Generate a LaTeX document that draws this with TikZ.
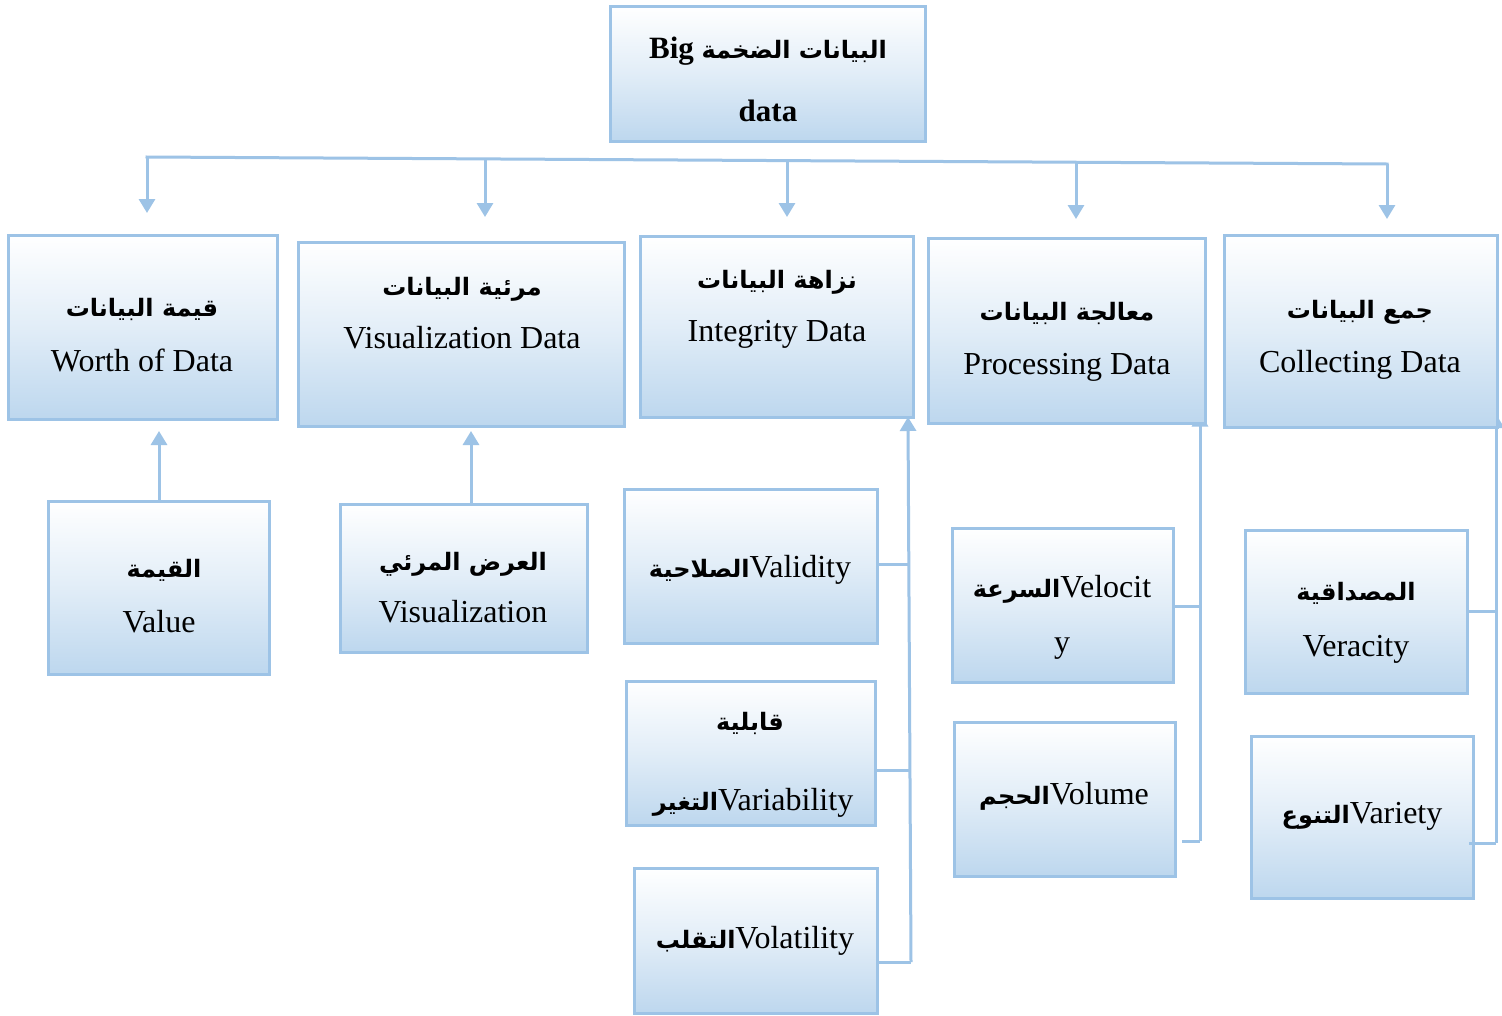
\documentclass[tikz,border=0pt]{standalone}
\usepackage{fontspec}
\setmainfont{Liberation Serif}
\newfontfamily\arabicfont[Script=Arabic]{DejaVu Sans}
\TeXXeTstate=1
\usetikzlibrary{arrows.meta}
\pgfdeclarelayer{background}
\pgfsetlayers{background,main}
\definecolor{edgeblue}{RGB}{157,195,230}
\definecolor{fillblue}{RGB}{189,215,238}
\newcommand\ar[1]{{\arabicfont\bfseries\beginR #1\endR}}
\newcommand\arm[1]{{\arabicfont\bfseries\fontsize{24}{30}\selectfont\beginR #1\endR}}
\tikzset{
  cbox/.style={draw=edgeblue, line width=3pt, top color=white, bottom color=fillblue,
    middle color=fillblue!45, inner sep=0pt},
  lat/.style={font=\fontsize{32}{36}\selectfont, inner sep=0pt, anchor=base},
  arl/.style={font=\fontsize{24}{30}\selectfont, inner sep=0pt, anchor=base},
  ln/.style={draw=edgeblue, line width=3pt},
  arr/.style={ln, -{Triangle[width=16pt,length=14pt]}},
}
\begin{document}
\begin{tikzpicture}[x=1pt,y=-1pt]
\begin{pgfonlayer}{background}
  \fill[white] (0,0) rectangle (1502,1015);
\end{pgfonlayer}
\useasboundingbox (0,0) rectangle (1502,1015);

% root box
\node[cbox, minimum width=315pt, minimum height=135pt] (root) at (767.5,73.5) {};
\node[lat, font=\fontsize{31}{34}\selectfont\bfseries] (rootA) at (768,58)
  {Big {\arabicfont\fontsize{24}{30}\selectfont\bfseries\beginR البيانات الضخمة\endR}};
\node[lat, font=\fontsize{31}{34}\selectfont\bfseries] (rootB) at (768,121) {data};

% first level
\node[cbox, minimum width=269pt, minimum height=184pt] (worth) at (142.5,327) {};
\node[cbox, minimum width=326pt, minimum height=184pt] (visdata) at (461,334) {};
\node[cbox, minimum width=273pt, minimum height=181pt] (integ) at (776.5,326.5) {};
\node[cbox, minimum width=277pt, minimum height=185pt] (proc) at (1066.5,330.5) {};
\node[cbox, minimum width=273pt, minimum height=192pt] (coll) at (1360.5,331) {};

\node[arl] (worthA) at (142,316) {\ar{قيمة البيانات}};
\node[lat] (worthB) at (142,371) {Worth of Data};
\node[arl] (visdataA) at (462,295) {\ar{مرئية البيانات}};
\node[lat] (visdataB) at (462,348) {Visualization Data};
\node[arl] (integA) at (777,288) {\ar{نزاهة البيانات}};
\node[lat] (integB) at (777,341) {Integrity Data};
\node[arl] (procA) at (1067,320) {\ar{معالجة البيانات}};
\node[lat] (procB) at (1067,374) {Processing Data};
\node[arl] (collA) at (1360,318) {\ar{جمع البيانات}};
\node[lat] (collB) at (1360,372) {Collecting Data};

% second level
\node[cbox, minimum width=221pt, minimum height=173pt] (value) at (158.5,587.5) {};
\node[cbox, minimum width=247pt, minimum height=148pt] (visual) at (463.5,578) {};
\node[cbox, minimum width=253pt, minimum height=154pt] (valid) at (750.5,566) {};
\node[cbox, minimum width=249pt, minimum height=144pt] (variab) at (750.5,753) {};
\node[cbox, minimum width=243pt, minimum height=145pt] (volat) at (755.5,940.5) {};
\node[cbox, minimum width=221pt, minimum height=154pt] (veloc) at (1062.5,605) {};
\node[cbox, minimum width=221pt, minimum height=154pt] (volume) at (1064.5,799) {};
\node[cbox, minimum width=222pt, minimum height=163pt] (verac) at (1356,611.5) {};
\node[cbox, minimum width=222pt, minimum height=162pt] (variety) at (1362,817) {};

\node[arl] (valueA) at (164,577) {\ar{القيمة}};
\node[lat] (valueB) at (159,632) {Value};
\node[arl] (visualA) at (463,570) {\ar{العرض المرئي}};
\node[lat] (visualB) at (463,622) {Visualization};
\node[lat] (validT) at (750,577) {\arm{الصلاحية}Validity};
\node[arl] (variabA) at (750,730) {\ar{قابلية}};
\node[lat] (variabB) at (753,810) {\arm{التغير}Variability};
\node[lat] (volatT) at (755,948) {\arm{التقلب}Volatility};
\node[lat] (velocA) at (1062,597) {\arm{السرعة}Velocit};
\node[lat] (velocB) at (1062,652) {y};
\node[lat] (volumeT) at (1064,804) {\arm{الحجم}Volume};
\node[arl] (veracA) at (1356,600) {\ar{المصداقية}};
\node[lat] (veracB) at (1356,656) {Veracity};
\node[lat] (varietyT) at (1362,823) {\arm{التنوع}Variety};

% distribution bus from the root
\coordinate (b1) at (147,157);
\coordinate (b2) at (485,159);
\coordinate (b3) at (787,160.6);
\coordinate (b4) at (1076,162.2);
\coordinate (b5) at (1387,164);
\draw[ln, line cap=rect] (b1) -- (b5);
\draw[arr] (b1) -- (147,213);
\draw[arr] (b2) -- (485,217);
\draw[arr] (b3) -- (787,217);
\draw[arr] (b4) -- (1076,219);
\draw[arr] (b5) -- (1387,219);

% single children pointing up
\draw[arr] (value.north -| 159,0) -- (159,431);
\draw[arr] (visual.north -| 471,0) -- (471,431);

% bracket into the integrity box
\coordinate (i1) at (909,564);
\coordinate (i2) at (909,770);
\coordinate (i3) at (911,962);
\draw[ln] (valid.east |- i1) -- (i1);
\draw[ln] (variab.east |- i2) -- (i2);
\draw[ln] (volat.east |- i3) -- (i3);
\draw[arr] (i3) -- (908,417);

% brackets whose arrow tips tuck under the processing and collecting boxes
\coordinate (p1) at (1200,606);
\coordinate (p2) at (1200,841);
\coordinate (c1) at (1496,611);
\coordinate (c2) at (1496,843);
\draw[ln] (veloc.east |- p1) -- (p1);
\draw[ln] (1182,841) -- (p2);
\draw[ln] (verac.east |- c1) -- (c1);
\draw[ln] (1469,843) -- (c2);
\begin{pgfonlayer}{background}
  \draw[arr] (p2) -- (proc.south east -| 1200,0) ++(0,-12);
  \draw[arr] (c2) -- (1496,414);
\end{pgfonlayer}
\end{tikzpicture}
\end{document}
